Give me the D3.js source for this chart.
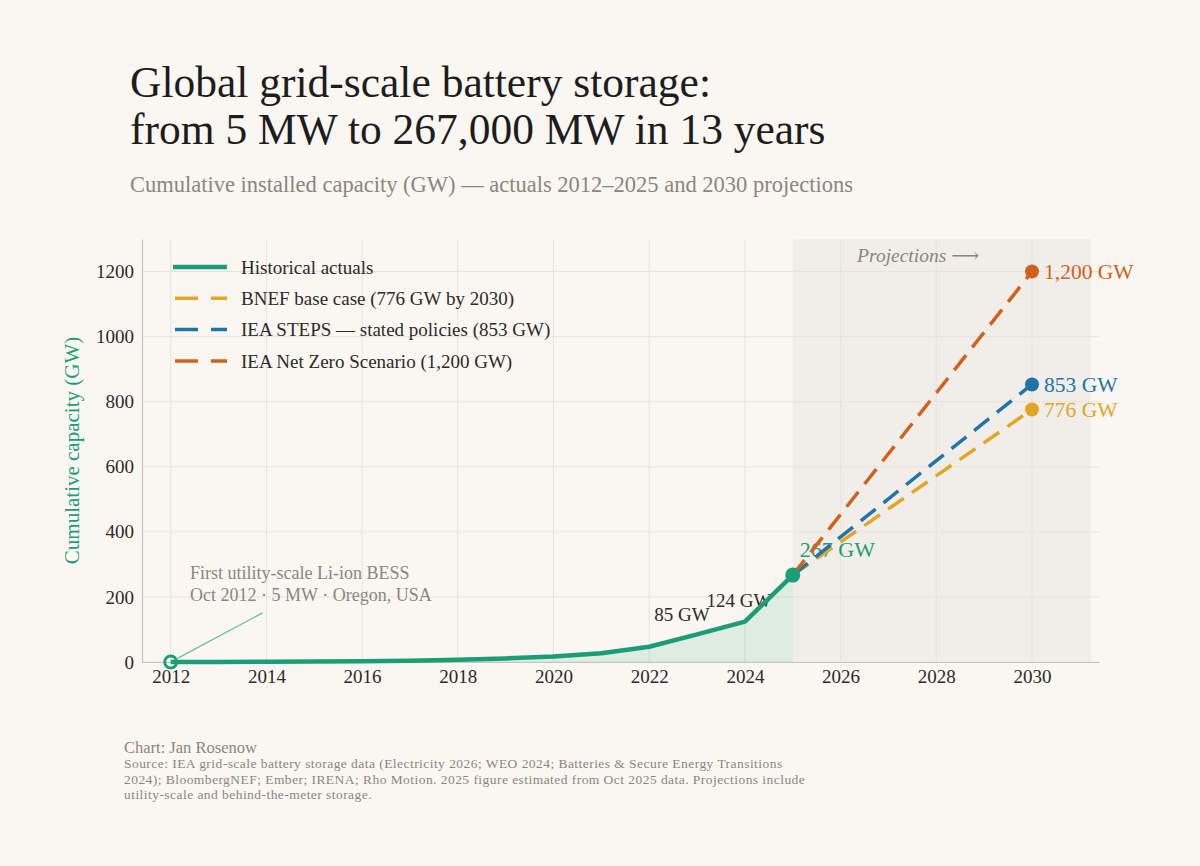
<!DOCTYPE html>
<html>
<head>
<meta charset="utf-8">
<script src="https://cdn.jsdelivr.net/npm/d3@7"></script>
<style>
  html, body { margin: 0; padding: 0; background: #faf7f2; }
  svg { display: block; font-family: "Liberation Serif", "DejaVu Serif", serif; }
</style>
</head>
<body>
<svg id="chart" width="1200" height="866"></svg>
<script>
// data
var histYears = [2012, 2013, 2014, 2015, 2016, 2017, 2018, 2019, 2020, 2021, 2022, 2023, 2024, 2025];
var histValues = [0.005, 0.1, 0.5, 1.5, 2.5, 4, 7, 11, 17, 27, 47, 85, 124, 267];

var projYears = [2025, 2030];
var bnefValues = [267, 776];
var stepsValues = [267, 853];
var netZeroValues = [267, 1200];

var xTicks = [2012, 2014, 2016, 2018, 2020, 2022, 2024, 2026, 2028, 2030];
var yTicks = [0, 200, 400, 600, 800, 1000, 1200];

var legendLabels = [
    "Historical actuals",
    "BNEF base case (776 GW by 2030)",
    "IEA STEPS \u2014 stated policies (853 GW)",
    "IEA Net Zero Scenario (1,200 GW)"
];
var endLabels = ["776 GW", "853 GW", "1,200 GW"];

var C = {
    green: "#1b9e77",
    yellow: "#e2a524",
    blue: "#1f74a8",
    orange: "#d2621b",
    grid: "#e7e2dc",
    spine: "#c9c4be",
    text: "#2b2b2b",
    muted: "#8a8680"
};

var svg = d3.select("#chart");

var plot = { left: 142, right: 1099, top: 239, bottom: 662 };

var x = d3.scaleLinear().domain([2011.4, 2031.4]).range([plot.left, plot.right]);
var y = d3.scaleLinear().domain([0, 1300]).range([plot.bottom, plot.top]);

// title block
svg.append("text").attr("x", 130).attr("y", 97)
    .style("font-size", "43.5px").style("fill", "#1d1d1d")
    .text("Global grid-scale battery storage:");
svg.append("text").attr("x", 130).attr("y", 144)
    .style("font-size", "43.5px").style("fill", "#1d1d1d")
    .text("from 5 MW to 267,000 MW in 13 years");
svg.append("text").attr("x", 130).attr("y", 192)
    .style("font-size", "22.5px").style("fill", C.muted)
    .text("Cumulative installed capacity (GW) \u2014 actuals 2012\u20132025 and 2030 projections");

// projection shading
svg.append("rect")
    .attr("x", x(2025)).attr("y", plot.top)
    .attr("width", x(2031.23) - x(2025)).attr("height", plot.bottom - plot.top)
    .style("fill", "#f1eeea");

// grid
var grid = svg.append("g").attr("class", "grid");
grid.selectAll(".gx").data(xTicks).enter().append("line")
    .attr("x1", function (d) { return x(d); }).attr("x2", function (d) { return x(d); })
    .attr("y1", plot.top).attr("y2", plot.bottom)
    .style("stroke", C.grid).style("stroke-width", 1);
grid.selectAll(".gy").data(yTicks).enter().append("line")
    .attr("x1", plot.left).attr("x2", plot.right)
    .attr("y1", function (d) { return y(d); }).attr("y2", function (d) { return y(d); })
    .style("stroke", C.grid).style("stroke-width", 1);

// axes
var xAxis = svg.append("g").attr("transform", "translate(0," + plot.bottom + ")")
    .call(d3.axisBottom(x).tickValues(xTicks).tickFormat(d3.format("d")).tickSize(0).tickPadding(8));
var yAxis = svg.append("g").attr("transform", "translate(" + plot.left + ",0)")
    .call(d3.axisLeft(y).tickValues(yTicks).tickFormat(d3.format("d")).tickSize(0).tickPadding(8));
[xAxis, yAxis].forEach(function (a) {
    a.select(".domain").style("stroke", C.spine).style("stroke-width", 1.2);
    a.selectAll("text").style("font-family", "Liberation Serif, serif").style("font-size", "19px").style("fill", C.text);
});

svg.append("text")
    .attr("transform", "translate(79," + ((plot.top + plot.bottom) / 2) + ") rotate(-90)")
    .attr("text-anchor", "middle")
    .style("font-size", "21px").style("fill", C.green)
    .text("Cumulative capacity (GW)");

// historical area + line
var hist = histYears.map(function (yr, i) { return [yr, histValues[i]]; });

svg.append("path").datum(hist)
    .attr("d", d3.area().x(function (d) { return x(d[0]); }).y0(y(0)).y1(function (d) { return y(d[1]); }))
    .style("fill", C.green).style("fill-opacity", 0.12);

// value labels (drawn before projection lines so the dashes sit on top)
svg.append("text").attr("x", x(2023) - 15).attr("y", y(85) - 13)
    .attr("text-anchor", "middle").style("font-size", "19px").style("fill", C.text).text("85 GW");
svg.append("text").attr("x", x(2024) - 6).attr("y", y(124) - 15)
    .attr("text-anchor", "middle").style("font-size", "19px").style("fill", C.text).text("124 GW");
svg.append("text").attr("x", x(2025) + 7).attr("y", y(267) - 18)
    .style("font-size", "22px").style("fill", C.green).text("267 GW");

svg.append("path").datum(hist)
    .attr("d", d3.line().x(function (d) { return x(d[0]); }).y(function (d) { return y(d[1]); }))
    .style("fill", "none").style("stroke", C.green).style("stroke-width", 4.5)
    .style("stroke-linejoin", "round");

// projections
var scenarios = [
    { values: bnefValues, color: C.yellow, label: endLabels[0] },
    { values: stepsValues, color: C.blue, label: endLabels[1] },
    { values: netZeroValues, color: C.orange, label: endLabels[2] }
];
var projLine = d3.line().x(function (d) { return x(d[0]); }).y(function (d) { return y(d[1]); });

var sc = svg.selectAll(".scenario").data(scenarios).enter().append("g").attr("class", "scenario");
sc.append("path")
    .attr("d", function (s) { return projLine(projYears.map(function (yr, i) { return [yr, s.values[i]]; })); })
    .style("fill", "none").style("stroke", function (s) { return s.color; })
    .style("stroke-width", 3.5).style("stroke-dasharray", "19,10");
sc.append("circle")
    .attr("cx", x(projYears[1])).attr("cy", function (s) { return y(s.values[1]); })
    .attr("r", 7).style("fill", function (s) { return s.color; });
sc.append("text")
    .attr("x", x(projYears[1]) + 12).attr("y", function (s) { return y(s.values[1]); })
    .attr("dy", "0.35em")
    .style("font-size", "21.5px").style("fill", function (s) { return s.color; })
    .text(function (s) { return s.label; });

// 2025 marker and 2012 open marker
svg.append("circle").attr("cx", x(2025)).attr("cy", y(267)).attr("r", 7.5).style("fill", C.green);
svg.append("circle").attr("cx", x(2012)).attr("cy", y(histValues[0])).attr("r", 6)
    .style("fill", "none").style("stroke", C.green).style("stroke-width", 3);

// first BESS annotation
svg.append("line")
    .attr("x1", x(2012.15)).attr("y1", y(12)).attr("x2", x(2013.92)).attr("y2", y(151))
    .style("stroke", C.green).style("stroke-opacity", 0.65).style("stroke-width", 1.3);
svg.append("text").attr("x", 190).attr("y", 579)
    .style("font-size", "18px").style("fill", C.muted).text("First utility-scale Li-ion BESS");
svg.append("text").attr("x", 190).attr("y", 601)
    .style("font-size", "18px").style("fill", C.muted).text("Oct 2012 \u00b7 5 MW \u00b7 Oregon, USA");

svg.append("text").attr("x", x(2027.62)).attr("y", y(1230))
    .attr("text-anchor", "middle")
    .style("font-size", "19.5px").style("font-style", "italic").style("fill", C.muted)
    .text("Projections \u27f6");

// legend
var legendColors = [C.green, C.yellow, C.blue, C.orange];
var lg = svg.selectAll(".legend").data(legendLabels).enter().append("g")
    .attr("class", "legend")
    .attr("transform", function (d, i) { return "translate(173," + (267 + i * 31.3) + ")"; });
lg.append("line")
    .attr("x1", function (d, i) { return i ? 2 : 0; }).attr("x2", 54)
    .style("stroke", function (d, i) { return legendColors[i]; })
    .style("stroke-width", function (d, i) { return i ? 3.5 : 4.5; })
    .style("stroke-dasharray", function (d, i) { return i ? "23,13" : null; });
lg.append("text").attr("x", 68).attr("dy", "0.35em")
    .style("font-size", "19px").style("fill", C.text)
    .text(function (d) { return d; });

// footer
svg.append("text").attr("x", 124).attr("y", 753)
    .style("font-size", "16.5px").style("fill", C.muted).text("Chart: Jan Rosenow");
var sourceLines = [
    "Source: IEA grid-scale battery storage data (Electricity 2026; WEO 2024; Batteries & Secure Energy Transitions",
    "2024); BloombergNEF; Ember; IRENA; Rho Motion. 2025 figure estimated from Oct 2025 data. Projections include",
    "utility-scale and behind-the-meter storage."
];
svg.selectAll(".src").data(sourceLines).enter().append("text")
    .attr("x", 124).attr("y", function (d, i) { return 768 + i * 15.5; })
    .style("font-size", "13.5px").style("letter-spacing", "0.45px").style("fill", C.muted)
    .text(function (d) { return d; });
</script>
</body>
</html>
